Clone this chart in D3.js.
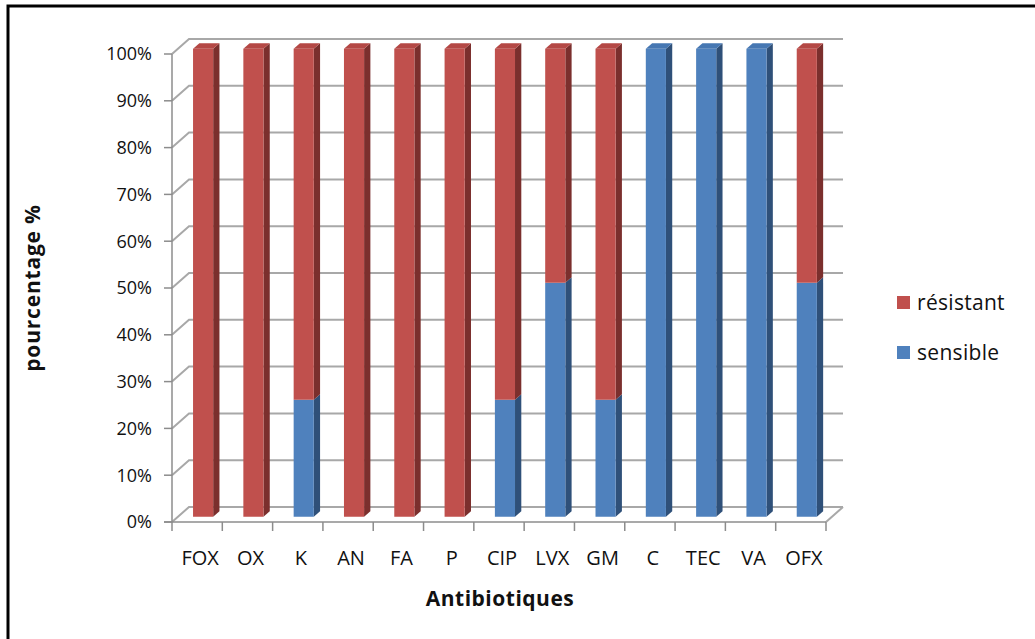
<!DOCTYPE html>
<html>
<head>
<meta charset="utf-8">
<script src="https://cdn.jsdelivr.net/npm/d3@7"></script>
<style>
  html, body { margin: 0; padding: 0; background: #fff; }
  svg { display: block; }
  text { font-family: "Open Sans", "Noto Sans", sans-serif; fill: #111; }
</style>
</head>
<body>
<svg id="chart" width="1035" height="639"></svg>
<script>
// Antibiotic susceptibility (% of isolates)
const categories = ["FOX", "OX", "K", "AN", "FA", "P", "CIP", "LVX", "GM", "C", "TEC", "VA", "OFX"];
const sensible   = [0, 0, 25, 0, 0, 0, 25, 50, 25, 100, 100, 100, 50];
const resistant  = [100, 100, 75, 100, 100, 100, 75, 50, 75, 0, 0, 0, 50];
const yTicks     = [0, 10, 20, 30, 40, 50, 60, 70, 80, 90, 100];
const seriesNames = ["résistant", "sensible"];

const svg = d3.select("#chart");

// outer frame
svg.append("rect")
  .attr("x", 8).attr("y", 6).attr("width", 1100).attr("height", 700)
  .attr("fill", "none").attr("stroke", "#000").attr("stroke-width", 3);

// 3D layout: front plane plus an oblique depth offset
const DX = 17, DY = 15;
const P = (x, y, d) => [x + d * DX, y - d * DY];

const x = d3.scaleBand().domain(categories).range([172, 826]).paddingInner(0).paddingOuter(0);
const y = d3.scaleLinear().domain([0, 100]).range([522, 54]);

const grid = "#a8a8a8";
const line = d3.line();

const g = svg.append("g");

// back wall gridlines and side-wall diagonals
yTicks.forEach(t => {
  const yy = y(t);
  g.append("path")
    .attr("d", line([P(172, yy, 0), P(172, yy, 1), P(826, yy, 1)]))
    .attr("fill", "none").attr("stroke", grid).attr("stroke-width", 2);
});

// floor right edge
g.append("path")
  .attr("d", line([P(826, y(0), 0), P(826, y(0), 1)]))
  .attr("fill", "none").attr("stroke", grid).attr("stroke-width", 2);

// value axis line and ticks
g.append("path")
  .attr("d", line([[172, y(0)], [172, y(100)]]))
  .attr("fill", "none").attr("stroke", "#8c8c8c").attr("stroke-width", 1.5);
yTicks.forEach(t => {
  g.append("path")
    .attr("d", line([[164, y(t)], [172, y(t)]]))
    .attr("fill", "none").attr("stroke", "#8c8c8c").attr("stroke-width", 1.5);
  g.append("text")
    .attr("x", 152).attr("y", y(t)).attr("dy", "0.36em")
    .attr("text-anchor", "end").attr("font-size", 18)
    .text(t + "%");
});

// category axis line and ticks
g.append("path")
  .attr("d", line([[164, y(0)], [826, y(0)]]))
  .attr("fill", "none").attr("stroke", "#8c8c8c").attr("stroke-width", 1.5);
categories.forEach((c, i) => {
  const xs = [x(c)];
  if (i === categories.length - 1) xs.push(x(c) + x.bandwidth());
  xs.forEach(xx => {
    g.append("path")
      .attr("d", line([[xx, y(0)], [xx, y(0) + 9]]))
      .attr("fill", "none").attr("stroke", "#8c8c8c").attr("stroke-width", 1.5);
  });
  g.append("text")
    .attr("x", x(c) + x.bandwidth() / 2 + 3).attr("y", 565)
    .attr("text-anchor", "middle").attr("font-size", 20)
    .text(c);
});

// stacked 3D columns
const colors = {
  sensible:  { front: "#4f81bd", side: "#2f5079", top: "#4677b2" },
  resistant: { front: "#c0504d", side: "#7b2f2d", top: "#b44845" }
};
const d0 = 0.35, d1 = 0.72;
const bw = x.bandwidth() * 0.4;

categories.forEach((c, i) => {
  const x0 = x(c) + (x.bandwidth() - bw) / 2, x1 = x0 + bw;
  const segs = [
    { v0: 0, v1: sensible[i], col: colors.sensible },
    { v0: sensible[i], v1: sensible[i] + resistant[i], col: colors.resistant }
  ].filter(s => s.v1 > s.v0);
  segs.forEach((s, k) => {
    const yb = y(s.v0), yt = y(s.v1);
    g.append("path")
      .attr("d", line([P(x1, yb, d0), P(x1, yt, d0), P(x1, yt, d1), P(x1, yb, d1)]) + "Z")
      .attr("fill", s.col.side);
    g.append("path")
      .attr("d", line([P(x0, yb, d0), P(x1, yb, d0), P(x1, yt, d0), P(x0, yt, d0)]) + "Z")
      .attr("fill", s.col.front);
    if (k === segs.length - 1) {
      g.append("path")
        .attr("d", line([P(x0, yt, d0), P(x1, yt, d0), P(x1, yt, d1), P(x0, yt, d1)]) + "Z")
        .attr("fill", s.col.top);
    }
  });
});

// axis titles
svg.append("text")
  .attr("x", 500).attr("y", 606)
  .attr("text-anchor", "middle").attr("font-size", 21).attr("font-weight", "bold")
  .attr("letter-spacing", 0.5)
  .text("Antibiotiques");
svg.append("text")
  .attr("transform", "translate(40,288) rotate(-90)")
  .attr("text-anchor", "middle").attr("font-size", 21).attr("font-weight", "bold")
  .attr("letter-spacing", 0.8)
  .text("pourcentage %");

// legend
const legend = svg.append("g");
[{ name: seriesNames[0], col: colors.resistant.front, yy: 302 },
 { name: seriesNames[1], col: colors.sensible.front, yy: 352 }].forEach(l => {
  legend.append("rect").attr("x", 897).attr("y", l.yy - 6).attr("width", 13).attr("height", 13).attr("fill", l.col);
  legend.append("text").attr("x", 917).attr("y", l.yy).attr("dy", "0.36em")
    .attr("font-size", 21).attr("letter-spacing", 0.3).text(l.name);
});
</script>
</body>
</html>
